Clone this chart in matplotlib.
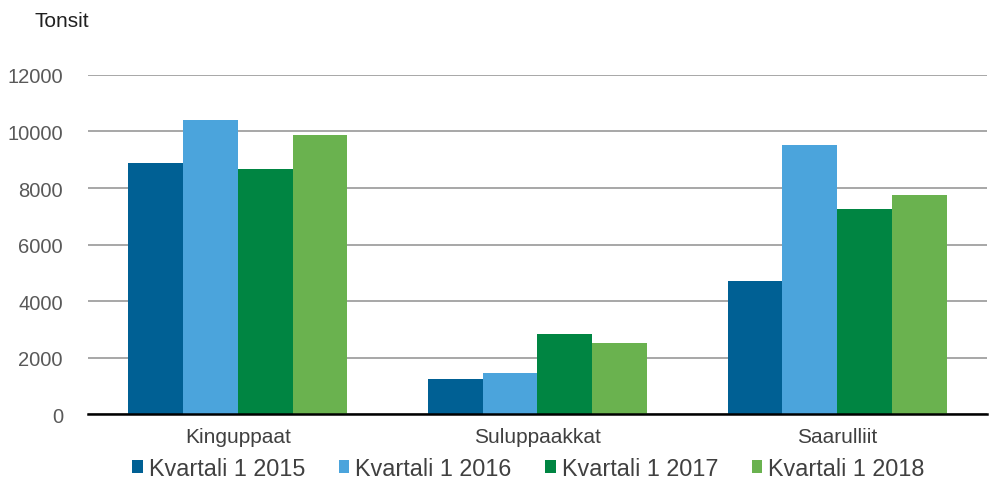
import numpy as np
import matplotlib.pyplot as plt

plt.rcParams['font.family'] = ['Liberation Sans', 'DejaVu Sans']

categories = ["Kinguppaat", "Suluppaakkat", "Saarulliit"]
series = ["Kvartali 1 2015", "Kvartali 1 2016", "Kvartali 1 2017", "Kvartali 1 2018"]
v2015 = [8890, 1230, 4700]
v2016 = [10420, 1440, 9520]
v2017 = [8660, 2830, 7250]
v2018 = [9860, 2510, 7760]
colors = ["#006094", "#4ba4dc", "#008542", "#6ab24f"]

values = [v2015, v2016, v2017, v2018]

fig = plt.figure(figsize=(9.95, 4.81), dpi=100)
ax = fig.add_axes([0.0884, 0.1372, 0.9036, 0.7048])

x = np.arange(len(categories))
w = 0.183
for i, (vals, lab, c) in enumerate(zip(values, series, colors)):
    ax.bar(x + (i - 1.5) * w, vals, width=w, color=c, label=lab, zorder=3)

ax.set_xlim(-0.5, 2.5)
ax.set_ylim(0, 12000)
ax.set_yticks(range(0, 12001, 2000))
ax.yaxis.grid(True, color="#a0a0a0", linewidth=1.3, zorder=0)
ax.set_axisbelow(True)
for s in ["top", "right", "left"]:
    ax.spines[s].set_visible(False)
ax.spines["bottom"].set_color("black")
ax.spines["bottom"].set_linewidth(1.8)
ax.spines["bottom"].set_zorder(4)
ax.tick_params(axis="y", length=0, pad=18, labelsize=14.5, labelcolor="#595959")
ax.tick_params(axis="x", length=0, pad=9, labelsize=15, labelcolor="#404040")
ax.set_xticks(x)
ax.set_xticklabels(categories)

fig.text(0.035, 0.955, "Tonsit", fontsize=15, color="#202020", va="center", ha="left")

ax.legend(loc="center", bbox_to_anchor=(0.49, -0.16), ncol=4, frameon=False,
          fontsize=16.8, handlelength=0.45, handleheight=0.45, handletextpad=0.25,
          columnspacing=1.45, labelcolor="#404040", borderpad=0)

plt.savefig("out.png", dpi=100)
